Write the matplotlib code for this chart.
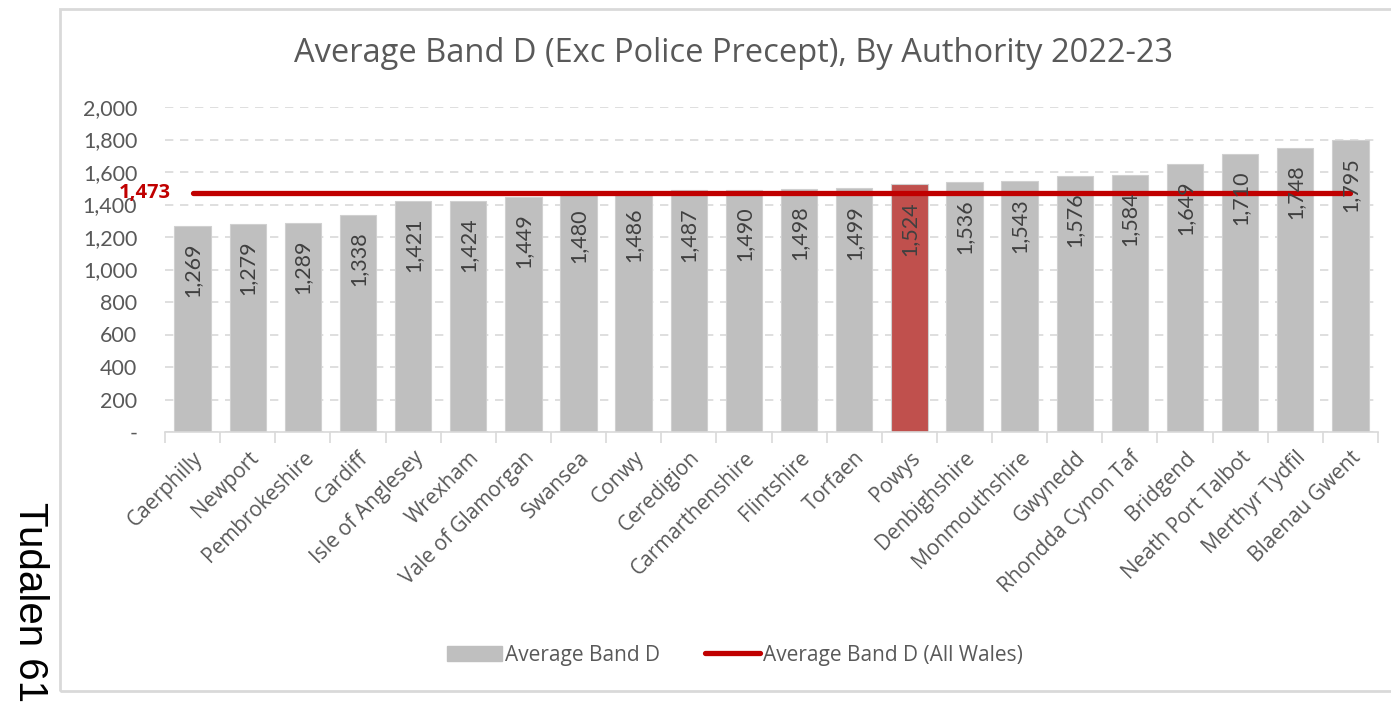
import matplotlib.pyplot as plt
from matplotlib.patches import Rectangle
from matplotlib.lines import Line2D
from matplotlib.ticker import FuncFormatter, FixedLocator

# Average Band D by authority, 2022-23
authorities = ["Caerphilly", "Newport", "Pembrokeshire", "Cardiff", "Isle of Anglesey",
               "Wrexham", "Vale of Glamorgan", "Swansea", "Conwy", "Ceredigion",
               "Carmarthenshire", "Flintshire", "Torfaen", "Powys", "Denbighshire",
               "Monmouthshire", "Gwynedd", "Rhondda Cynon Taf", "Bridgend",
               "Neath Port Talbot", "Merthyr Tydfil", "Blaenau Gwent"]
band_d = [1269, 1279, 1289, 1338, 1421, 1424, 1449, 1480, 1486, 1487, 1490,
          1498, 1499, 1524, 1536, 1543, 1576, 1584, 1649, 1710, 1748, 1795]
all_wales = 1473
highlight = "Powys"

W, H = 1391, 707
fig = plt.figure(figsize=(W / 100, H / 100), dpi=100)
plt.rcParams['font.family'] = ['Open Sans', 'DejaVu Sans']
num_font = ["Lato", "DejaVu Sans"]

# chart frame
fig.patches.append(Rectangle((60 / W, 1 - 691 / H), 1.2, (691 - 9) / H,
                             transform=fig.transFigure, fill=False,
                             edgecolor="#D9D9D9", linewidth=2))

ax = fig.add_axes([165 / W, 1 - 432 / H, (1378 - 165) / W, (432 - 107) / H])

txt = "#595959"
colors = ["#C0504D" if a == highlight else "#BFBFBF" for a in authorities]
x = list(range(len(authorities)))
ax.bar(x, band_d, width=0.66, color=colors, edgecolor="#D0D0D0",
       linewidth=0.8, zorder=2)

for xi, v in zip(x, band_d):
    ax.annotate(f"{v:,}", (xi, v), xytext=(0, -12), textcoords="offset points",
                rotation=90, ha="center", va="top", fontsize=15.5,
                color="#404040", family=num_font, zorder=4)

ax.plot([x[0], x[-1]], [all_wales, all_wales], color="#C00000", linewidth=3.8,
        solid_capstyle="round", zorder=3)
ax.annotate(f"{all_wales:,}", (x[0], all_wales), xytext=(-16, 0),
            textcoords="offset points", ha="right", va="center", fontsize=14.5,
            fontweight="bold", color="#C00000", family=["Open Sans", "DejaVu Sans"],
            zorder=4, annotation_clip=False)

ax.set_xlim(-0.5, len(authorities) - 0.5)
ax.set_ylim(0, 2000)
ax.set_yticks(range(0, 2001, 200))
ax.yaxis.set_major_formatter(FuncFormatter(lambda v, p: "-" if v == 0 else f"{int(v):,}"))
ax.grid(axis="y", color="#D9D9D9", linestyle=(0, (5, 4)), linewidth=1.2, zorder=0)
ax.set_axisbelow(True)

for s in ["top", "right", "left"]:
    ax.spines[s].set_visible(False)
ax.spines["bottom"].set_color("#D9D9D9")
ax.spines["bottom"].set_linewidth(1.2)

ax.tick_params(axis="y", length=0, pad=20, labelsize=15.5, labelcolor=txt)
for lab in ax.get_yticklabels():
    lab.set_family(num_font)
ax.set_xticks(x)
ax.set_xticklabels(authorities, rotation=45, ha="right", rotation_mode="anchor",
                   fontsize=15, color=txt)
ax.tick_params(axis="x", which="major", length=0, pad=11)
ax.xaxis.set_minor_locator(FixedLocator([i - 0.5 for i in range(len(authorities) + 1)]))
ax.tick_params(axis="x", which="minor", length=8, color="#D9D9D9", width=1.2)

fig.text(733 / W, 1 - 54 / H, "Average Band D (Exc Police Precept), By Authority 2022-23",
         ha="center", va="center", fontsize=23.5, color=txt)

handles = [Rectangle((0, 0), 1, 1, color="#BFBFBF"),
           Line2D([0], [0], color="#C00000", linewidth=3.8, solid_capstyle="round")]
fig.legend(handles, ["Average Band D", "Average Band D (All Wales)"],
           loc="center", bbox_to_anchor=(735 / W, 1 - 655 / H), ncol=2, frameon=False,
           fontsize=15, labelcolor=txt, handlelength=2.6, handletextpad=0.15,
           columnspacing=2.2)

fig.text(30 / W, 1 - 602 / H, "Tudalen 61", rotation=-90, ha="center", va="center",
         fontsize=29, color="black", family=["Liberation Sans", "DejaVu Sans"])

fig.savefig("out.png", dpi=100)
